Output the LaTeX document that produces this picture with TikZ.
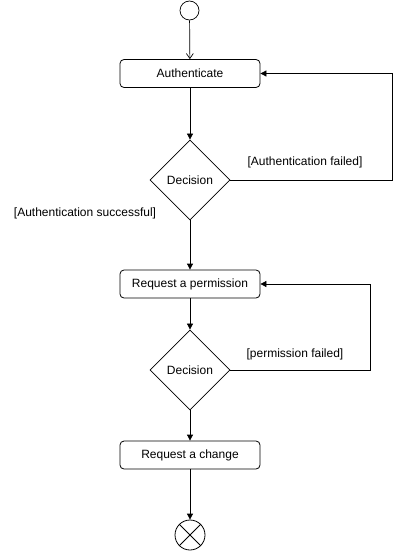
\documentclass[tikz,border=0pt]{standalone}
\usepackage{fontspec}
\setmainfont{Liberation Sans}
\usetikzlibrary{shapes.geometric,arrows.meta}
\begin{document}
\begin{tikzpicture}[x=1pt,y=-1pt,
  font=\fontsize{12}{14}\selectfont,
  act/.style={draw,rounded corners=4pt,minimum width=140pt,minimum height=28pt,inner sep=0pt,line width=0.8pt},
  dec/.style={draw,diamond,minimum width=80pt,minimum height=80pt,inner sep=0pt,line width=0.8pt},
  flow/.style={draw,line width=0.8pt,-{Triangle[length=6pt,width=6pt]}},
  lbl/.style={inner sep=0pt}]
\useasboundingbox (0,0) rectangle (400,551);
\node[draw,circle,minimum size=19pt,inner sep=0pt,line width=0.7pt] (start) at (189.5,10.5) {};
\node[act] (auth) at (190,73.5) {Authenticate};
\node[dec] (d1) at (190,180) {Decision};
\node[act] (perm) at (190,284) {Request a permission};
\node[dec] (d2) at (190,370) {Decision};
\node[act] (chg) at (190,455) {Request a change};
\node[draw,circle,minimum size=30pt,inner sep=0pt,line width=0.8pt] (end) at (190,535) {};
\draw[line width=0.8pt] (end.north west) -- (end.south east) (end.north east) -- (end.south west);
\coordinate (c1) at (392,180);
\coordinate (c2) at (392,73.5);
\coordinate (c3) at (370,370);
\coordinate (c4) at (370,284);
\draw[line width=0.7pt,-{Straight Barb[length=5pt,width=7pt]}] (start) -- (auth);
\draw[flow] (auth) -- (d1);
\draw[flow] (d1.east) -- (c1) -- (c2) -- (auth.east);
\draw[flow] (d1) -- (perm);
\draw[flow] (perm) -- (d2);
\draw[flow] (d2.east) -- (c3) -- (c4) -- (perm.east);
\draw[flow] (d2) -- (chg);
\draw[flow] (chg) -- (end);
\node[lbl] (l1) at (305,162) {[Authentication failed]};
\node[lbl] (l2) at (85,213) {[Authentication successful]};
\node[lbl] (l3) at (295,354) {[permission failed]};
\end{tikzpicture}
\end{document}
